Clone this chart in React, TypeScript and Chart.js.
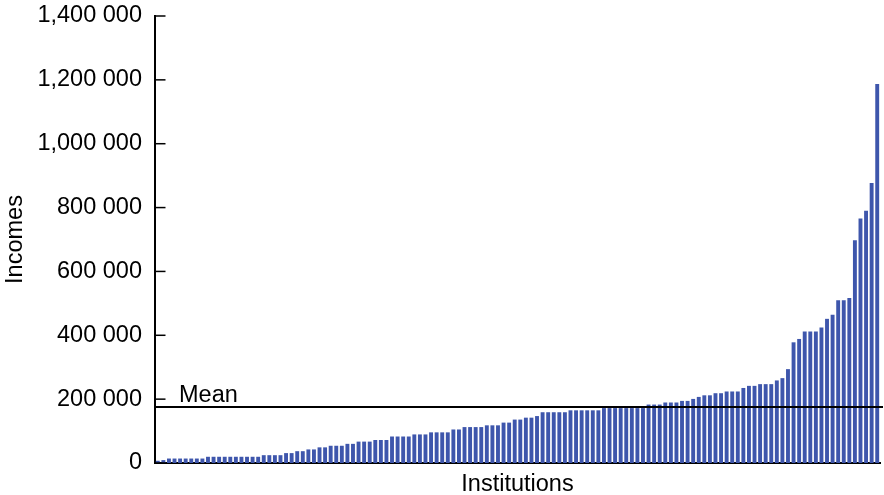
import React, { useEffect, useRef } from 'react';
import { Chart, registerables } from 'chart.js';

Chart.register(...registerables);

// Incomes per institution, sorted ascending
const incomes: number[] = [
  7000, 9000,
  14000, 14000, 14000, 14000, 14000, 14000, 14000,
  19500, 19500, 19500, 19500, 19500, 19500, 19500, 19500, 19500, 19500,
  24500, 24500, 24500, 24500,
  31000, 31000, 37000, 37000, 42500, 42500, 49000, 49000,
  54000, 54000, 54000, 60000, 60000,
  67000, 67000, 67000, 72000, 72000, 72000,
  83000, 83000, 83000, 83000,
  89500, 89500, 89500,
  96000, 96000, 96000, 96000,
  105000, 105000,
  112500, 112500, 112500, 112500,
  118000, 118000, 118000,
  126500, 126500, 136000, 136000, 142000, 142000, 147000,
  159000, 159000, 159000, 159000, 159000,
  165000, 165000, 165000, 165000, 165000, 165000,
  172000, 172000, 172000, 172000, 172000, 172000, 172000, 172000,
  183000, 183000, 183000,
  189500, 189500, 189500,
  194500, 194500, 200700, 207000,
  212000, 212000, 218600, 218600,
  224000, 224000, 224000, 235000,
  241600, 241600, 247000, 247000, 247000,
  258600, 265800, 294000, 378000, 388500,
  411500, 411500, 411500, 424000, 451500, 464000,
  510000, 510000, 516500,
  698000, 766000, 790000, 877000, 1187000,
];

const institutions: string[] = incomes.map((_, i) => `Institution ${i + 1}`);

const MEAN_INCOME = 175500;
const MEAN_LABEL = 'Mean';

const yTickValues: number[] = [0, 200000, 400000, 600000, 800000, 1000000, 1200000, 1400000];
const yTickLabels: string[] = ['0', '200 000', '400 000', '600 000', '800 000', '1,000 000', '1,200 000', '1,400 000'];

const X_TITLE = 'Institutions';
const Y_TITLE = 'Incomes';

const FONT_FAMILY = "'Liberation Sans', Arial, Helvetica, sans-serif";
const FONT_SIZE = 23.5;
const BAR_COLOR = '#3E56AC';

const overlayPlugin = {
  id: 'meanOverlay',
  afterDatasetsDraw(chart: any) {
    const { ctx, chartArea, scales } = chart;
    const y = scales.y;
    ctx.save();
    ctx.strokeStyle = '#000';
    ctx.lineWidth = 1.5;
    y.ticks.forEach((t: any) => {
      const py = y.getPixelForValue(t.value);
      ctx.beginPath();
      ctx.moveTo(chartArea.left, py);
      ctx.lineTo(chartArea.left + 10.5, py);
      ctx.stroke();
    });
    const my = y.getPixelForValue(MEAN_INCOME);
    ctx.lineWidth = 2;
    ctx.beginPath();
    ctx.moveTo(chartArea.left, my);
    ctx.lineTo(chartArea.right + 3, my);
    ctx.stroke();
    ctx.fillStyle = '#000';
    ctx.font = `${FONT_SIZE}px ${FONT_FAMILY}`;
    ctx.textAlign = 'left';
    ctx.textBaseline = 'alphabetic';
    ctx.fillText(MEAN_LABEL, chartArea.left + 24, my - 4.5);
    ctx.restore();
  },
};

export default function App() {
  const canvasRef = useRef<HTMLCanvasElement | null>(null);

  useEffect(() => {
    if (!canvasRef.current) return;
    const chart = new Chart(canvasRef.current, {
      type: 'bar',
      data: {
        labels: institutions,
        datasets: [
          {
            data: incomes,
            backgroundColor: BAR_COLOR,
            borderWidth: 0,
            categoryPercentage: 0.7,
            barPercentage: 1.0,
          },
        ],
      },
      options: {
        animation: false,
        responsive: false,
        devicePixelRatio: 1,
        layout: { padding: { top: 16, right: 4, left: 0, bottom: 0 } },
        plugins: {
          legend: { display: false },
          tooltip: { enabled: false },
        },
        scales: {
          x: {
            type: 'category',
            offset: true,
            grid: { display: false, drawTicks: false },
            border: { display: true, color: '#000', width: 2 },
            ticks: { display: false },
            title: {
              display: true,
              text: X_TITLE,
              color: '#000',
              font: { family: FONT_FAMILY, size: FONT_SIZE, lineHeight: 1 },
              padding: { top: 0, bottom: -1 },
            },
            afterFit: (scale: any) => {
              scale.height = 32;
            },
          },
          y: {
            type: 'linear',
            min: 0,
            max: 1400000,
            afterBuildTicks: (scale: any) => {
              scale.ticks = yTickValues.map((v) => ({ value: v }));
            },
            grid: { display: false, drawTicks: false },
            border: { display: true, color: '#000', width: 2 },
            ticks: {
              padding: 13,
              color: '#000',
              font: { family: FONT_FAMILY, size: FONT_SIZE },
              callback: (_v: any, index: number) => yTickLabels[index],
            },
            title: {
              display: true,
              text: Y_TITLE,
              color: '#000',
              font: { family: FONT_FAMILY, size: FONT_SIZE, lineHeight: 1 },
              padding: { top: 3.5, bottom: 0 },
            },
            afterFit: (scale: any) => {
              scale.width = 155;
              scale.paddingTop = 0;
              scale.paddingBottom = 0;
            },
          },
        },
      },
      plugins: [overlayPlugin],
    });
    return () => chart.destroy();
  }, []);

  return (
    <div style={{ position: 'absolute', left: 0, top: 0, width: 884, height: 495, background: '#fff' }}>
      <canvas ref={canvasRef} width={884} height={495} style={{ display: 'block' }} />
    </div>
  );
}
